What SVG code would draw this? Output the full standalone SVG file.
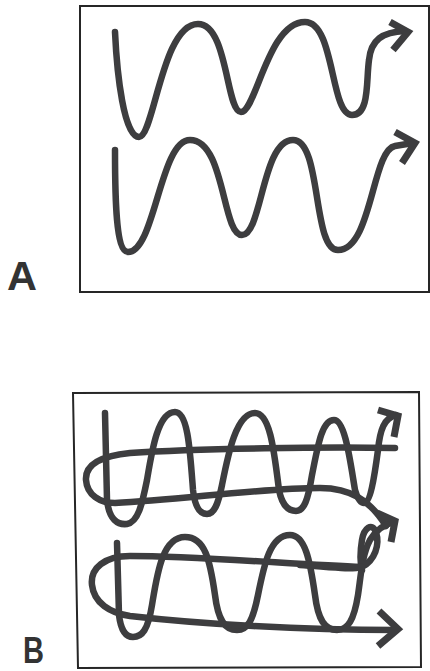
<svg xmlns="http://www.w3.org/2000/svg" width="430" height="671" viewBox="0 0 430 671">
<style>
.frame{fill:none;stroke:#262626;stroke-width:2}
.w{fill:none;stroke:#3d3d3f;stroke-width:6.5;stroke-linecap:round;stroke-linejoin:round}
.ah{fill:none;stroke:#3d3d3f;stroke-width:7;stroke-linecap:butt;stroke-linejoin:miter}
.lbl{font-family:"Liberation Sans",Arial,sans-serif;font-weight:bold;font-size:40px;fill:#333}
</style>
<rect width="430" height="671" fill="#ffffff"/>
<g id="panel-a">
<text class="lbl" x="7" y="290" textLength="30" lengthAdjust="spacingAndGlyphs">A</text>
<path class="frame" d="M80,6 L429,6 L429,292 L80,292 Z"/>
<path class="w" d="M115,32 C117,75 124,137 139,137 C154,137 162,24 198,24 C228,24 226,112 241,112 C256,112 268,22 305,22 C335,22 330,115 352,115 C370,115 366,80 369,60 C371,40 382,32 405,31"/>
<path class="ah" d="M390,22 L408,32 L393,50"/>
<path class="w" d="M115,150 C115,200 116,252 128,252 C155,252 160,140 190,140 C225,140 222,235 242,235 C262,235 262,140 293,140 C322,140 312,250 338,250 C372,250 372,150 395,146 L413,143"/>
<path class="ah" d="M395,132 L415,143 L402,163"/>
</g>
<g id="panel-b">
<text class="lbl" x="23" y="663" style="font-size:37px" textLength="21" lengthAdjust="spacingAndGlyphs">B</text>
<path class="frame" d="M73,393 L419,392 L421,667 L78,668 Z"/>
<path class="w" d="M105,413 L107,500 C109,520 118,525 127,524 C138,522 142,505 147,480 C152,450 158,412 175,412 C188,412 190,450 193,490 C195,508 200,514 207,514 C214,514 218,505 222,485 C228,455 236,413 255,413 C270,413 274,450 279,490 C282,505 288,511 296,511 C304,511 308,500 312,475 C318,445 322,420 334,420 C345,420 350,460 355,490 C358,500 361,503 364,503 C370,503 374,480 378,450 C380,430 384,418 396,415"/>
<path class="ah" d="M378,410 L398,416 L394,437"/>
<path class="w" d="M395,448 C330,447 200,448 130,453 C100,456 85,465 86,480 C87,495 100,503 115,503 C180,500 260,488 320,488 C350,488 370,500 386,526"/>
<path class="w" d="M117,543 L119,615 C121,632 126,637 133,637 C142,637 148,630 152,605 C157,575 162,537 185,537 C205,537 210,560 215,595 C218,620 225,630 237,630 C248,630 253,620 258,595 C264,565 270,535 290,535 C305,535 310,560 315,595 C318,620 325,630 337,630 C348,630 354,620 358,595 C361,575 362,555 370,540 C376,530 385,524 394,522"/>
<path class="ah" d="M377,513 L395,521 L391,542"/>
<path class="w" d="M300,565 C330,567 350,570 362,567 C375,560 380,545 376,532 C372,522 364,528 362,540 C360,552 360,562 362,570"/>
<path class="w" d="M362,567 C300,565 200,556 130,556 C105,556 90,568 92,585 C94,603 110,613 130,616 C200,624 300,630 396,630"/>
<path class="ah" d="M379,611 L398,629 L378,646"/>
</g>
</svg>
